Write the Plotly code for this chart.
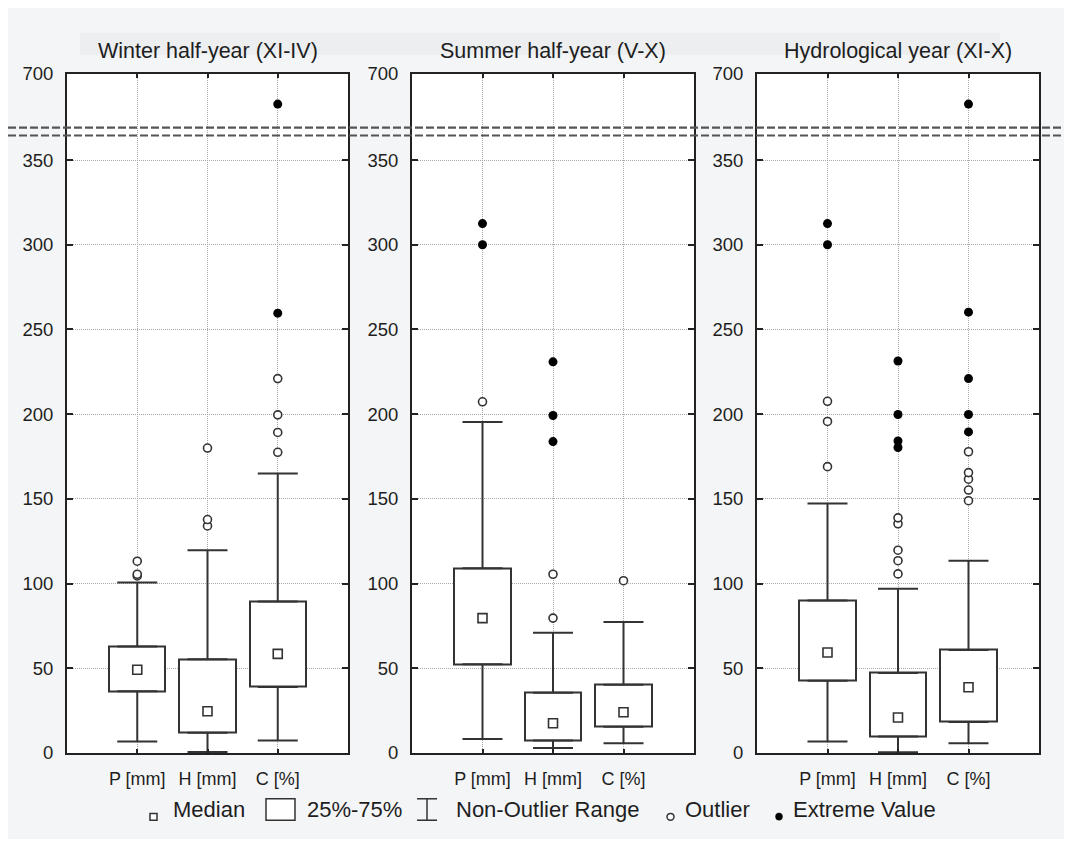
import plotly.graph_objects as go

# The page body keeps the browser's default 8px margin on every side, so the figure
# is sized to fit the 1072x847 window exactly and screen positions are offset by 8px.
OFF = 8
W, H = 1072 - 2 * OFF, 847 - 2 * OFF

# ---------------- data ----------------
categories = ["P [mm]", "H [mm]", "C [%]"]
panel_titles = ["Winter half-year (XI-IV)", "Summer half-year (V-X)", "Hydrological year (XI-X)"]

winter_low = [6.7, 0.5, 7.3]
winter_q1 = [36.5, 12.0, 39.0]
winter_median = [49.1, 24.6, 58.5]
winter_q3 = [62.9, 55.3, 89.4]
winter_high = [100.6, 119.6, 165.0]
winter_outliers = [[104.5, 105.5, 113.2], [134.0, 137.8, 180.0], [177.5, 189.2, 199.6, 221.0]]
winter_extremes = [[], [], [259.6, 682.0]]

summer_low = [8.2, 2.9, 5.8]
summer_q1 = [52.4, 7.3, 15.5]
summer_median = [79.6, 17.5, 24.0]
summer_q3 = [109.0, 35.5, 40.3]
summer_high = [195.3, 71.0, 77.3]
summer_outliers = [[207.3], [79.6, 105.5], [101.7]]
summer_extremes = [[300.0, 312.5], [183.8, 199.2, 230.9], []]

hydro_low = [6.8, 0.4, 5.8]
hydro_q1 = [42.7, 9.7, 18.3]
hydro_median = [59.3, 20.9, 38.8]
hydro_q3 = [90.0, 47.2, 60.8]
hydro_high = [147.2, 96.9, 113.5]
hydro_outliers = [[169.0, 195.7, 207.6], [105.7, 113.5, 119.7, 135.3, 138.8],
                  [148.9, 155.2, 161.6, 165.5, 177.8]]
hydro_extremes = [[300.0, 312.5], [180.3, 184.2, 199.8, 231.4], [189.5, 199.8, 221.0, 260.2, 682.0]]

lower_yticks = [0, 50, 100, 150, 200, 250, 300, 350]
upper_yticks = [700]

legend_labels = ["Median", "25%-75%", "Non-Outlier Range", "Outlier", "Extreme Value"]

panels = [
    (winter_low, winter_q1, winter_median, winter_q3, winter_high, winter_outliers, winter_extremes),
    (summer_low, summer_q1, summer_median, summer_q3, summer_high, summer_outliers, summer_extremes),
    (hydro_low, hydro_q1, hydro_median, hydro_q3, hydro_high, hydro_outliers, hydro_extremes),
]

# ---------------- style / layout ----------------
FONT = "Liberation Sans, Arial, sans-serif"
INK = "#333333"
TXT = "#1e1e1e"
BG = "#f4f5f6"

px_per_unit = 1.738
y_bottom = 761.0
y_top = 64.0
y_split = 123.5
panel_x = [(67, 348), (412, 694), (757, 1039)]

def fx(px):
    return (px - OFF) / W

def fy(py):
    return 1 - (py - OFF) / H

lower_range = [0, (y_bottom - y_split) / px_per_unit]
upper_range = [700 - (y_split - y_top) / px_per_unit, 700]

fig = go.Figure()
layout = dict(
    width=W, height=H,
    margin=dict(l=0, r=0, t=0, b=0),
    paper_bgcolor=BG, plot_bgcolor="white",
    showlegend=False,
    font=dict(family=FONT, color=TXT, size=18),
)

shapes = []
annotations = []

for p, (lo, q1, med, q3, hi, outl, extr) in enumerate(panels):
    xl = 2 * p + 1
    xu = 2 * p + 2
    xs_l = "x" if xl == 1 else f"x{xl}"
    ys_l = "y" if xl == 1 else f"y{xl}"
    xs_u = f"x{xu}"
    ys_u = f"y{xu}"
    x0, x1 = panel_x[p]

    # box (25%-75%)
    fig.add_trace(go.Bar(
        x=categories, y=[b - a for a, b in zip(q1, q3)], base=q1, width=0.8,
        marker=dict(color="white", line=dict(color=INK, width=2)),
        xaxis=xs_l, yaxis=ys_l, hoverinfo="skip"))
    # upper whiskers
    fig.add_trace(go.Scatter(
        x=categories, y=q3, mode="markers", marker=dict(size=1, opacity=0),
        error_y=dict(type="data", symmetric=False,
                     array=[h - t for h, t in zip(hi, q3)], arrayminus=[0, 0, 0],
                     color=INK, thickness=2, width=20),
        xaxis=xs_l, yaxis=ys_l, hoverinfo="skip"))
    # lower whiskers
    fig.add_trace(go.Scatter(
        x=categories, y=q1, mode="markers", marker=dict(size=1, opacity=0),
        error_y=dict(type="data", symmetric=False,
                     array=[0, 0, 0], arrayminus=[a - l for a, l in zip(q1, lo)],
                     color=INK, thickness=2, width=20),
        xaxis=xs_l, yaxis=ys_l, hoverinfo="skip"))
    # medians
    fig.add_trace(go.Scatter(
        x=categories, y=med, mode="markers",
        marker=dict(symbol="square", size=9, color="white", line=dict(color=INK, width=1.6)),
        xaxis=xs_l, yaxis=ys_l, hoverinfo="skip"))
    # outliers
    ox = [c for c, vals in zip(categories, outl) for _ in vals]
    oy = [v for vals in outl for v in vals]
    fig.add_trace(go.Scatter(
        x=ox, y=oy, mode="markers",
        marker=dict(symbol="circle", size=8, color="white", line=dict(color=INK, width=1.6)),
        xaxis=xs_l, yaxis=ys_l, hoverinfo="skip"))
    # extremes (lower and upper part of broken axis)
    ex = [c for c, vals in zip(categories, extr) for _ in vals]
    ey = [v for vals in extr for v in vals]
    for xs, ys in ((xs_l, ys_l), (xs_u, ys_u)):
        fig.add_trace(go.Scatter(
            x=ex, y=ey, mode="markers",
            marker=dict(symbol="circle", size=9, color="black", line=dict(color="black", width=0)),
            xaxis=xs, yaxis=ys, hoverinfo="skip"))

    xdom = [fx(x0), fx(x1)]
    grid = dict(showgrid=True, gridcolor="#a8a8a8", griddash="1px,1px", gridwidth=1)
    xaxis_common = dict(domain=xdom, type="category", categoryorder="array",
                        categoryarray=categories, range=[-1, 3], zeroline=False,
                        showline=True, linecolor="#222", linewidth=2,
                        ticks="inside", ticklen=4, tickcolor="#222", tickwidth=1.5,
                        tickfont=dict(family=FONT, size=18, color=TXT), **grid)
    layout["xaxis" if xl == 1 else f"xaxis{xl}"] = dict(
        anchor=ys_l, side="bottom", mirror=False, ticklabelstandoff=8, **xaxis_common)
    layout[f"xaxis{xu}"] = dict(
        anchor=ys_u, side="top", mirror=False, showticklabels=False, **xaxis_common)

    yaxis_common = dict(anchor=xs_l, showline=True, linecolor="#222", linewidth=2,
                        mirror="ticks", ticks="inside", ticklen=6, tickcolor="#222",
                        tickwidth=1.5, zeroline=False, ticklabelstandoff=8,
                        tickfont=dict(family=FONT, size=18.5, color=TXT), **grid)
    layout["yaxis" if xl == 1 else f"yaxis{xl}"] = dict(
        domain=[fy(y_bottom), fy(y_split)], range=lower_range,
        tickvals=lower_yticks, ticktext=[str(v) for v in lower_yticks], **yaxis_common)
    uc = dict(yaxis_common)
    uc["anchor"] = xs_u
    layout[f"yaxis{xu}"] = dict(
        domain=[fy(y_split), fy(y_top)], range=upper_range,
        tickvals=upper_yticks, ticktext=[str(v) for v in upper_yticks], **uc)

    annotations.append(dict(
        text=panel_titles[p], x=fx((x0 + x1) / 2), y=fy(41), xref="paper", yref="paper",
        xanchor="center", yanchor="middle", showarrow=False,
        font=dict(family=FONT, size=21.5, color=TXT)))

# title band
shapes.append(dict(type="rect", xref="paper", yref="paper", x0=fx(80), x1=fx(1000),
                   y0=fy(45), y1=fy(22), fillcolor="#eceef0", line=dict(width=0), layer="below"))

# broken-axis marks
for yy in (119.5, 127.5):
    shapes.append(dict(type="line", xref="paper", yref="paper", x0=0, x1=1, y0=fy(yy), y1=fy(yy),
                       line=dict(color="#555555", width=2.2, dash="8px,3px"), layer="above"))

# legend glyphs
LW = 1.5
shapes.append(dict(type="rect", xref="paper", yref="paper", x0=fx(150), x1=fx(157),
                   y0=fy(830), y1=fy(823), line=dict(color=INK, width=LW), fillcolor="white"))
shapes.append(dict(type="rect", xref="paper", yref="paper", x0=fx(266), x1=fx(295),
                   y0=fy(830), y1=fy(808), line=dict(color=INK, width=LW), fillcolor="white"))
for (a, b, c, d) in ((417, 808, 437, 808), (427, 808, 427, 830), (417, 830, 437, 830)):
    shapes.append(dict(type="line", xref="paper", yref="paper", x0=fx(a), x1=fx(c),
                       y0=fy(b), y1=fy(d), line=dict(color=INK, width=LW)))
shapes.append(dict(type="circle", xref="paper", yref="paper", x0=fx(667), x1=fx(674),
                   y0=fy(830), y1=fy(823), line=dict(color=INK, width=LW), fillcolor="white"))
shapes.append(dict(type="circle", xref="paper", yref="paper", x0=fx(775.5), x1=fx(782.5),
                   y0=fy(830), y1=fy(822.5), line=dict(color="black", width=0.5), fillcolor="black"))

legend_x = [171, 305, 454, 683, 791]
for lab, lx in zip(legend_labels, legend_x):
    annotations.append(dict(
        text=lab, x=fx(lx), y=fy(818.5), xref="paper", yref="paper",
        xanchor="left", yanchor="middle", showarrow=False,
        font=dict(family=FONT, size=22, color=TXT)))

layout["shapes"] = shapes
layout["annotations"] = annotations
layout["bargap"] = 0
fig.update_layout(**layout)

fig.write_html("out.html")
